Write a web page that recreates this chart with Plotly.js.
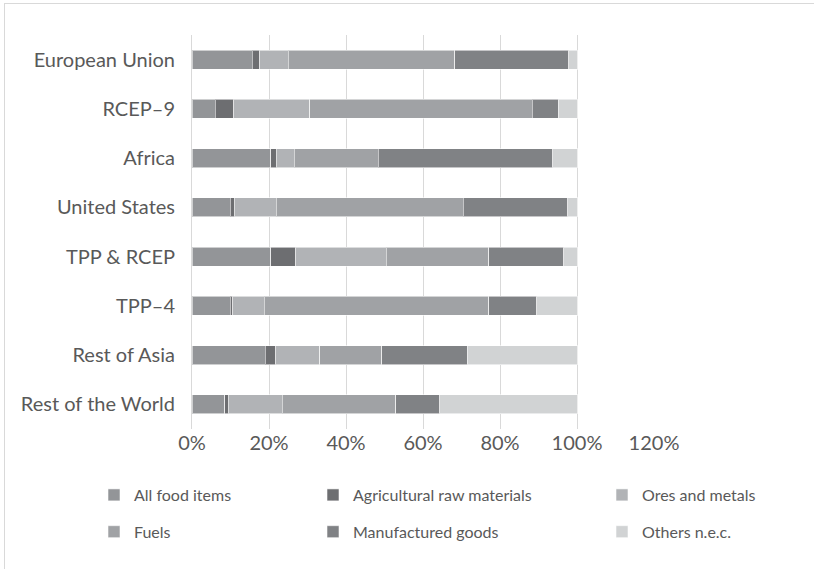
<!DOCTYPE html>
<html>
<head>
<meta charset="utf-8">
<script src="https://cdn.plot.ly/plotly-3.0.1.min.js"></script>
<style>
  html, body { margin: 0; padding: 0; background: #ffffff; }
  #wrap { position: relative; width: 814px; height: 569px; overflow: hidden; }
  #chart { position: absolute; left: 0; top: 0; width: 814px; height: 569px; }
  #frame { position: absolute; left: 4px; top: 3px; width: 900px; height: 700px;
           border-left: 1px solid #d9d9d9; border-top: 1px solid #d9d9d9;
           pointer-events: none; }
</style>
</head>
<body>
<div id="wrap">
  <div id="chart"></div>
  <div id="frame"></div>
</div>
<script>
// Export composition by destination, share of total (0–1), top to bottom
const regions = ["European Union", "RCEP–9", "Africa", "United States",
                 "TPP & RCEP", "TPP–4", "Rest of Asia", "Rest of the World"];

const allFood      = [0.156, 0.061, 0.204, 0.099, 0.204, 0.099, 0.190, 0.085];
const agriRaw      = [0.020, 0.048, 0.015, 0.011, 0.066, 0.007, 0.028, 0.009];
const oresMetals   = [0.074, 0.197, 0.046, 0.109, 0.235, 0.081, 0.114, 0.141];
const fuels        = [0.432, 0.578, 0.219, 0.486, 0.266, 0.584, 0.161, 0.294];
const manufactured = [0.296, 0.067, 0.453, 0.271, 0.194, 0.124, 0.222, 0.115];
const othersNec    = [0.022, 0.049, 0.063, 0.024, 0.035, 0.105, 0.285, 0.356];

const seriesNames  = ["All food items", "Agricultural raw materials", "Ores and metals",
                      "Fuels", "Manufactured goods", "Others n.e.c."];
const seriesValues = [allFood, agriRaw, oresMetals, fuels, manufactured, othersNec];
const seriesColors = ["#939598", "#6d6e71", "#b1b3b6", "#a0a2a5", "#808285", "#d1d3d4"];
// legend column for each series (three columns, two rows)
const seriesLegend = ["legend", "legend2", "legend3", "legend", "legend2", "legend3"];

const traces = seriesNames.map((name, i) => ({
  type: "bar",
  orientation: "h",
  name: name,
  y: regions,
  x: seriesValues[i],
  legend: seriesLegend[i],
  legendgroup: "g" + i,
  marker: { color: seriesColors[i], line: { color: "rgba(255,255,255,0.55)", width: 1 } },
  hovertemplate: "%{y}: %{x:.1%}<extra>" + name + "</extra>"
}));

const textColor = "#595959";
const legendFont = { family: "Lato, 'Open Sans', sans-serif", size: 16, color: textColor };
const legendBase = {
  orientation: "v",
  xref: "container", yref: "container",
  yanchor: "top", xanchor: "left",
  y: 1 - 478 / 569,
  font: legendFont,
  traceorder: "grouped",
  tracegroupgap: 13,
  bgcolor: "rgba(0,0,0,0)",
  itemclick: false, itemdoubleclick: false
};

const layout = {
  width: 814, height: 569,
  margin: { l: 192, r: 160, t: 35, b: 140, autoexpand: false },
  paper_bgcolor: "#ffffff",
  plot_bgcolor: "#ffffff",
  barmode: "stack",
  bargap: 0.61,
  font: { family: "Lato, 'Open Sans', sans-serif", color: textColor, size: 20 },
  xaxis: {
    range: [0, 1.2],
    dtick: 0.2,
    tickformat: ".0%",
    showgrid: true,
    gridcolor: "#d9d9d9",
    gridwidth: 1,
    zeroline: false,
    showline: false,
    ticks: "",
    automargin: false,
    tickfont: { size: 20, color: textColor },
    fixedrange: true
  },
  yaxis: {
    autorange: "reversed",
    showline: true,
    linecolor: "#d9d9d9",
    linewidth: 1,
    ticks: "",
    automargin: false,
    ticklabelstandoff: 12,
    tickfont: { size: 20, color: textColor },
    fixedrange: true
  },
  showlegend: true,
  legend:  Object.assign({}, legendBase, { x: 94 / 814 }),
  legend2: Object.assign({}, legendBase, { x: 313 / 814 }),
  legend3: Object.assign({}, legendBase, { x: 602 / 814 })
};

Plotly.newPlot("chart", traces, layout, { displayModeBar: false, staticPlot: true });
</script>
</body>
</html>
